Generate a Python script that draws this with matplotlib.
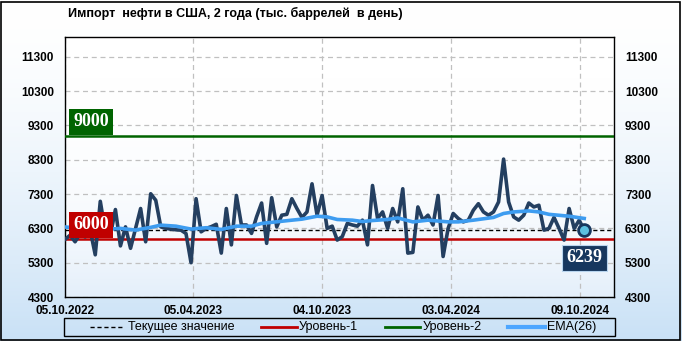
import numpy as np
import matplotlib
matplotlib.use("Agg")
import matplotlib.pyplot as plt
from matplotlib.lines import Line2D
from matplotlib.patches import Rectangle
from matplotlib.colors import LinearSegmentedColormap

title = "Импорт  нефти в США, 2 года (тыс. баррелей  в день)"

values = [5980, 6100, 5910, 6150, 6050, 6250, 5530, 7090, 6200, 6100,
          6850, 5790, 6345, 5720, 6300, 6880, 5910, 7310, 7120, 6345,
          6300, 6280, 6260, 6250, 6150, 5300, 7165, 6200, 6300, 6350,
          6420, 5580, 6880, 5820, 7260, 6400, 6400, 6155, 6635, 7040,
          5865, 7195, 6345, 6685, 6710, 7165, 6880, 6620, 6780, 7600,
          6685, 7260, 6300, 6365, 5960, 6060, 6445, 6400, 6365, 6540,
          5820, 7550, 6590, 6780, 6300, 6880, 6490, 7455, 5580, 5600,
          6925, 6540, 6685, 6400, 7260, 5480, 6300, 6735, 6590, 6490,
          6540, 6830, 7020, 6780, 6685, 6780, 7070, 8320, 7070, 6635,
          6540, 6685, 7040, 6925, 6975, 6250, 6300, 6620, 6300, 5960,
          6880, 6300, 6540, 6239]

ema_idx = [0, 3, 7, 11, 14, 17, 19, 22, 25, 28, 31, 34, 37, 39, 45, 47, 50,
           52, 54, 57, 59, 61, 64, 66, 69, 72, 76, 78, 81, 85, 87, 89, 92,
           94, 96, 100, 103]
ema_vals = [6340, 6310, 6260, 6300, 6250, 6330, 6395, 6365, 6280, 6320,
            6270, 6365, 6365, 6445, 6540, 6570, 6655, 6635, 6560, 6540,
            6500, 6530, 6560, 6605, 6490, 6540, 6490, 6490, 6540, 6620,
            6735, 6780, 6810, 6780, 6710, 6655, 6590]

date_labels = ["05.10.2022", "05.04.2023", "04.10.2023", "03.04.2024", "09.10.2024"]
date_pos = [0, 25.4, 51.0, 76.6, 102.2]
y_ticks = [4300, 5300, 6300, 7300, 8300, 9300, 10300, 11300]
level1 = 6000
level2 = 9000
current = values[-1]

W, H = 682, 341
fig = plt.figure(figsize=(W / 100, H / 100), dpi=100)

# background gradients
bg = fig.add_axes([0, 0, 1, 1], zorder=-10)
bg.set_xlim(0, 1); bg.set_ylim(0, 1); bg.axis("off")
g = np.linspace(0, 1, 256).reshape(-1, 1)
cm1 = LinearSegmentedColormap.from_list("bg1", ["#ffffff", "#c9e1f6"])
bg.imshow(g ** 1.6, aspect="auto", cmap=cm1, extent=[0, 1, 0, 1], origin="upper", vmin=0, vmax=1)

L, R, T, B = 65, 614, 37, 297
rect = [L / W, 1 - B / H, (R - L) / W, (B - T) / H]
cm2 = LinearSegmentedColormap.from_list("bg2", ["#ffffff", "#e4effa"])
bg.imshow(g ** 3, aspect="auto", cmap=cm2,
          extent=[rect[0], rect[0] + rect[2], rect[1], rect[1] + rect[3]],
          origin="upper", vmin=0, vmax=1, zorder=1)
bg.set_xlim(0, 1); bg.set_ylim(0, 1)

fig.patches.append(Rectangle((1 / W, 1 / H), (W - 3) / W, (H - 3) / H,
                             transform=fig.transFigure, fill=False,
                             ec="black", lw=1.2))

ax = fig.add_axes(rect)
ax.set_facecolor("none")
x = np.arange(len(values))

ax.axhline(level2, color="#006400", lw=1.8, zorder=3)
ax.axhline(level1, color="#c00000", lw=1.8, zorder=3)
ax.axhline(current, color="black", lw=1.0, ls=(0, (3, 2)), zorder=3)
ax.plot(x, values, color="#243f60", lw=2.6, zorder=4, solid_joinstyle="round")
ax.plot(ema_idx, ema_vals, color="#3d9cf0", lw=2.6, zorder=5)
ax.plot(x[-1], values[-1], "o", ms=8.5, mfc="#5cc0e0", mec="#17375e", mew=2, zorder=6)

ax.set_xlim(0, 108.9)
ax.set_ylim(4300, 11880)
ax.set_xticks(date_pos)
ax.set_xticklabels(date_labels)
ax.set_yticks(y_ticks)
ax.set_yticklabels([str(v) for v in y_ticks])
ax.tick_params(axis="y", length=0, pad=8, labelright=True, labelleft=True, labelsize=8.5)
ax.tick_params(axis="x", length=0, pad=6, labelsize=8.5)
for t in ax.xaxis.get_major_ticks() + ax.yaxis.get_major_ticks():
    for lab in (t.label1, t.label2):
        lab.set_fontweight("bold")
        lab.set_fontfamily("Liberation Sans")
ax.grid(True, color="#c0c0c0", ls=(0, (4, 3)), lw=0.9)
ax.set_axisbelow(True)
for s in ax.spines.values():
    s.set_color("black"); s.set_linewidth(1.0)

box_font = dict(family="Liberation Serif", weight="bold", size=13, color="white")
ax.annotate(str(level2), xy=(0, level2), xycoords=("axes fraction", "data"),
            xytext=(6, 4), textcoords="offset points", ha="left", va="bottom",
            bbox=dict(boxstyle="square,pad=0.25", fc="#006400", ec="none"),
            zorder=7, **box_font)
ax.annotate(str(level1), xy=(0, level1), xycoords=("axes fraction", "data"),
            xytext=(6, 4), textcoords="offset points", ha="left", va="bottom",
            bbox=dict(boxstyle="square,pad=0.25", fc="#c00000", ec="none"),
            zorder=7, **box_font)
ax.annotate(str(current), xy=(x[-1], current), xycoords="data",
            xytext=(0, -19.5), textcoords="offset points", ha="center", va="center",
            bbox=dict(boxstyle="square,pad=0.25", fc="#17375e", ec="#b8d4ee", lw=0.8),
            zorder=7, **box_font)

fig.text(68 / W, 1 - 13 / H, title, ha="left", va="center",
         fontsize=9, fontweight="bold", family="Liberation Sans")

# legend
ly0, ly1 = 318, 336
fig.patches.append(Rectangle((64 / W, 1 - ly1 / H), (615 - 64) / W, (ly1 - ly0) / H,
                             transform=fig.transFigure, fill=False, ec="black", lw=1))
ly = 1 - 327 / H
entries = [
    (90, 122, dict(color="black", lw=1.0, ls=(0, (3, 2))), 128, "Текущее значение"),
    (261, 297, dict(color="#c00000", lw=2.0), 299, "Уровень-1"),
    (385, 420, dict(color="#006400", lw=2.0), 423, "Уровень-2"),
    (508, 545, dict(color="#4da6ff", lw=3.0), 547, "EMA(26)"),
]
for x0, x1, st, tx, lab in entries:
    fig.add_artist(Line2D([x0 / W, x1 / W], [ly, ly], transform=fig.transFigure, **st))
    fig.text(tx / W, ly, lab, ha="left", va="center", fontsize=9,
             family="Liberation Sans")

fig.savefig("out.png", dpi=100)
